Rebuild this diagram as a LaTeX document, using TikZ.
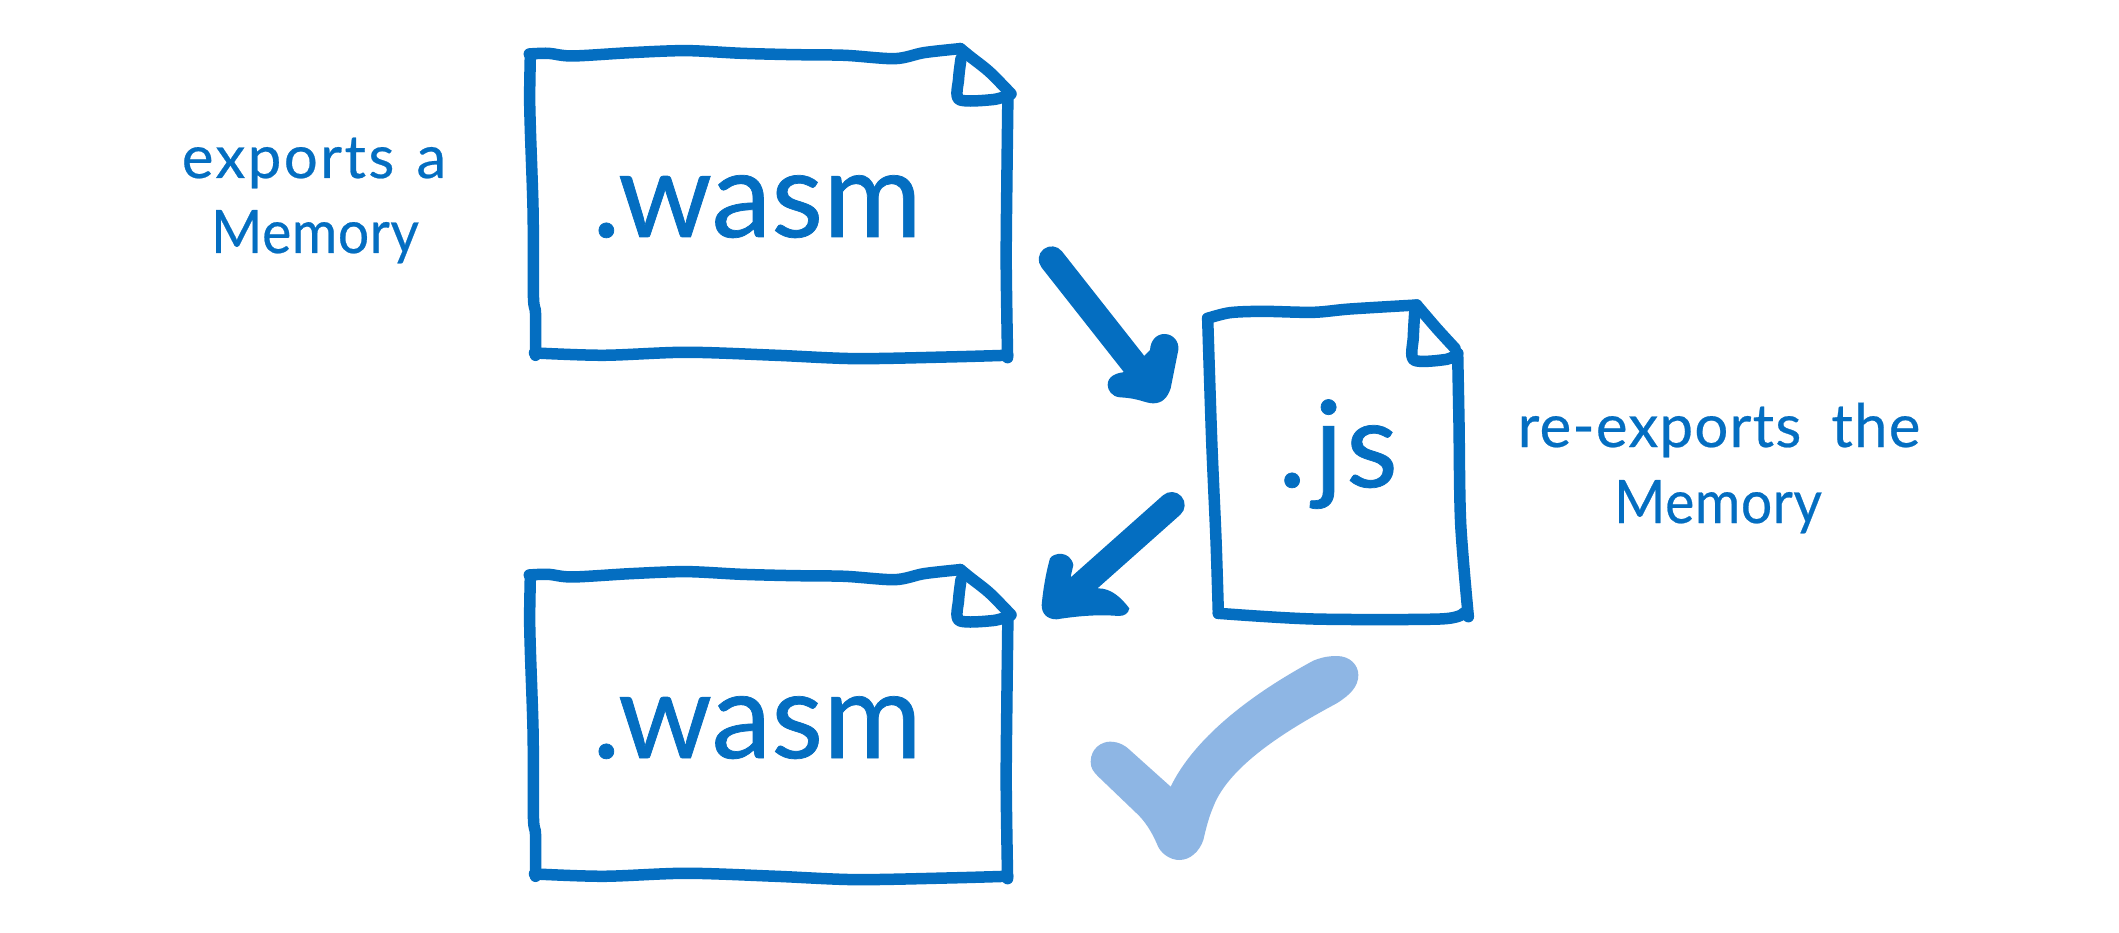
\documentclass[tikz,border=0pt]{standalone}
\usepackage{fontspec}
\setmainfont{Lato}
\newfontfamily\bigfont[FakeBold=0.6]{Lato}
\newfontfamily\smallfont[LetterSpace=4,FakeBold=0.4]{Lato}
\newfontfamily\midfont[LetterSpace=2,FakeBold=0.4]{Lato}
\newfontfamily\memfont[FakeStretch=0.92,LetterSpace=1,FakeBold=0.4]{Lato}
\definecolor{ink}{HTML}{046EC1}
\definecolor{tick}{HTML}{8EB6E4}
\tikzset{
  x=1pt,y=-1pt,
  sketch/.style={draw=ink,line width=11.5pt,line cap=round,line join=round},
  heavy/.style={draw=ink,line width=26pt,line cap=round,line join=round},
  bigtext/.style={text=ink,font=\bigfont\fontsize{120}{120}\selectfont,inner sep=0pt,anchor=base},
  note/.style={text=ink,font=\smallfont\fontsize{60}{60}\selectfont,inner sep=0pt,anchor=base},
  notemid/.style={text=ink,font=\midfont\fontsize{60}{60}\selectfont,inner sep=0pt,anchor=base},
  notemem/.style={text=ink,font=\memfont\fontsize{60}{60}\selectfont,inner sep=0pt,anchor=base},
}
\newcommand{\wasmfile}[3]{%
  \begin{scope}[shift={(500,#1)},scale=1/2.9,yscale=.972]
    \draw[sketch] plot[smooth,tension=.5] coordinates {(85,76) (140,74) (210,82) (380,72) (540,66) (700,74) (850,78) (1000,80) (1145,90) (1230,72) (1335,60)};
    \draw[sketch] plot[smooth,tension=.5] coordinates {(1335,60) (1365,85) (1420,130) (1482,195)};
    \draw[sketch] plot[smooth,tension=.5] coordinates {(1473,200) (1470,450) (1468,700) (1472,982)};
    \draw[sketch] plot[smooth,tension=.5] coordinates {(1472,975) (1300,980) (1030,985) (800,975) (540,966) (300,975) (100,968)};
    \draw[sketch] plot[smooth,tension=.5] coordinates {(103,975) (103,850) (97,800) (96,550) (88,300) (86,200) (88,80)};
    \draw[sketch] plot[smooth,tension=.5] coordinates {(1337,90) (1330,150) (1332,212) (1430,212) (1480,197)};
  \end{scope}
  \node[bigtext] (#2) at (757,#3) {.wasm};
}
\begin{document}
\begin{tikzpicture}
\useasboundingbox (0,0) rectangle (2119,933);
\fill[white] (0,0) rectangle (2119,933);
% wasm documents
\wasmfile{28.5}{wasmA}{237}
\wasmfile{549.5}{wasmB}{758}
% js document
\begin{scope}[shift={(1030,240)},scale=1/3]
  \draw[sketch] plot[smooth,tension=.5] coordinates {(533,235) (600,218) (700,214) (850,217) (960,207) (1160,195)};
  \draw[sketch] plot[smooth,tension=.5] coordinates {(1160,195) (1220,265) (1275,325)};
  \draw[sketch] plot[smooth,tension=.5] coordinates {(1283,340) (1287,550) (1292,850) (1315,1130)};
  \draw[sketch] plot[smooth,tension=.5] coordinates {(1300,1120) (1230,1137) (850,1137) (565,1120)};
  \draw[sketch] plot[smooth,tension=.5] coordinates {(565,1120) (558,900) (545,600) (533,235)};
  \draw[sketch] plot[smooth,tension=.5] coordinates {(1155,205) (1150,290) (1152,360) (1250,358) (1283,340)};
  % arrow heads
  \fill[ink] (360,330) .. controls (362,300) and (380,282) .. (403,282) .. controls (430,282) and (448,305) .. (445,330) -- (422,445) .. controls (412,475) and (395,490) .. (370,490) .. controls (345,490) and (330,475) .. (270,472) .. controls (245,470) and (233,450) .. (233,435) .. controls (233,410) and (255,397) .. (297,395) -- cycle;
  \fill[ink] (35,1095) .. controls (40,1040) and (50,990) .. (60,955) .. controls (70,938) and (120,930) .. (130,975) -- (122,1010) -- (205,1045) .. controls (245,1045) and (275,1075) .. (298,1105) .. controls (295,1120) and (285,1128) .. (265,1128) .. controls (200,1122) and (130,1130) .. (80,1138) .. controls (50,1138) and (35,1120) .. (35,1095) -- cycle;
  \coordinate (arrowAstart) at (65,58);
  \coordinate (arrowAend) at (350,420);
  \coordinate (arrowBstart) at (425,795);
  \coordinate (arrowBend) at (110,1075);
\end{scope}
\draw[heavy] (arrowAstart) -- (arrowAend);
\draw[heavy] (arrowBstart) -- (arrowBend);
\node[bigtext] (jsfile) at (1338,487) {.\hspace{8pt}j\hspace{3pt}s};
% notes
\node[note] (noteAa) at (314,178) {exports\hspace{22pt}a};
\node[notemem] (noteAb) at (315,253) {Memory};
\node[notemid] (noteBa) at (1719,447) {re-exports\hspace{30pt}the};
\node[notemem] (noteBb) at (1718,523) {Memory};
% check mark
\begin{scope}[shift={(1060,630)},scale=1/3]
  \fill[tick] (92,395) .. controls (92,355) and (125,335) .. (150,335) .. controls (180,335) and (200,350) .. (215,365) -- (332,470) .. controls (400,330) and (560,200) .. (760,92) .. controls (790,80) and (810,78) .. (830,78) .. controls (870,78) and (895,105) .. (895,135) .. controls (895,170) and (870,195) .. (830,220) .. controls (700,290) and (510,400) .. (460,530) .. controls (445,565) and (437,600) .. (430,630) .. controls (418,665) and (390,690) .. (358,690) .. controls (330,690) and (300,670) .. (290,640) .. controls (275,605) and (255,575) .. (235,555) -- (115,440) .. controls (100,425) and (92,415) .. (92,395) -- cycle;
\end{scope}
\end{tikzpicture}
\end{document}
